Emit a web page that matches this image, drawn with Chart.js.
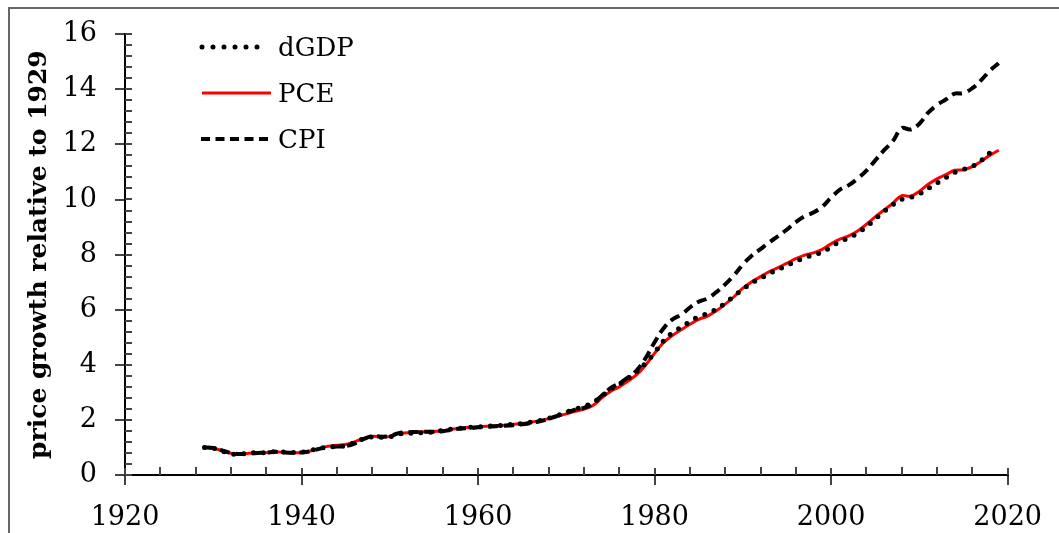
<!DOCTYPE html>
<html>
<head>
<meta charset="utf-8">
<script src="https://cdn.jsdelivr.net/npm/chart.js@4.4.1/dist/chart.umd.min.js"></script>
<style>
  body { margin: 0; background: #fff; }
  #wrap { position: relative; width: 1059px; height: 533px; overflow: hidden; }
  #frame { position: absolute; left: 8px; top: 7px; width: 1200px; height: 700px;
           border-left: 2px solid #666; border-top: 2px solid #666; pointer-events: none; }
  #legend { position: absolute; left: 198px; top: 24px; font-family: "DejaVu Serif", serif; font-size: 26px; color: #000; }
  .row { display: flex; align-items: center; height: 46px; }
  .row svg { margin-right: 6px; }
</style>
</head>
<body>
<div id="wrap">
  <canvas id="chart"></canvas>
  <div id="frame"></div>
  <div id="legend">
    <div class="row">
      <svg width="74" height="10"><line x1="4" y1="5" x2="70" y2="5" stroke="#000" stroke-width="5" stroke-linecap="round" stroke-dasharray="0 11"/></svg>
      <span>dGDP</span>
    </div>
    <div class="row">
      <svg width="74" height="10"><line x1="4" y1="5" x2="73" y2="5" stroke="#ff0000" stroke-width="3"/></svg>
      <span>PCE</span>
    </div>
    <div class="row">
      <svg width="74" height="10"><line x1="3" y1="5" x2="72" y2="5" stroke="#000" stroke-width="4" stroke-dasharray="9 5.5"/></svg>
      <span>CPI</span>
    </div>
  </div>
</div>
<script>
// years 1929..2019
const years = [
  1929, 1930, 1931, 1932, 1933, 1934, 1935, 1936, 1937, 1938,
  1939, 1940, 1941, 1942, 1943, 1944, 1945, 1946, 1947, 1948,
  1949, 1950, 1951, 1952, 1953, 1954, 1955, 1956, 1957, 1958,
  1959, 1960, 1961, 1962, 1963, 1964, 1965, 1966, 1967, 1968,
  1969, 1970, 1971, 1972, 1973, 1974, 1975, 1976, 1977, 1978,
  1979, 1980, 1981, 1982, 1983, 1984, 1985, 1986, 1987, 1988,
  1989, 1990, 1991, 1992, 1993, 1994, 1995, 1996, 1997, 1998,
  1999, 2000, 2001, 2002, 2003, 2004, 2005, 2006, 2007, 2008,
  2009, 2010, 2011, 2012, 2013, 2014, 2015, 2016, 2017, 2018,
  2019
];

// GDP deflator, 1929 = 1 (ends 2018)
const dgdp = [
  1.00, 0.97, 0.87, 0.77, 0.76, 0.79, 0.81, 0.81, 0.85, 0.83,
  0.82, 0.83, 0.89, 0.97, 1.01, 1.03, 1.06, 1.18, 1.31, 1.38,
  1.37, 1.39, 1.48, 1.51, 1.53, 1.54, 1.57, 1.62, 1.67, 1.70,
  1.73, 1.75, 1.77, 1.79, 1.81, 1.84, 1.87, 1.92, 1.98, 2.06,
  2.16, 2.28, 2.39, 2.49, 2.62, 2.86, 3.12, 3.30, 3.51, 3.76,
  4.07, 4.44, 4.86, 5.16, 5.36, 5.57, 5.75, 5.86, 6.02, 6.24,
  6.49, 6.74, 6.97, 7.14, 7.31, 7.46, 7.61, 7.75, 7.89, 7.98,
  8.09, 8.28, 8.47, 8.60, 8.78, 9.01, 9.29, 9.56, 9.81, 10.00,
  10.08, 10.20, 10.40, 10.60, 10.79, 10.98, 11.09, 11.20, 11.41, 11.70
];

// PCE price index, 1929 = 1
const pce = [
  1.00, 0.97, 0.88, 0.79, 0.76, 0.79, 0.80, 0.81, 0.84, 0.82,
  0.81, 0.82, 0.87, 0.96, 1.04, 1.08, 1.11, 1.20, 1.33, 1.40,
  1.39, 1.40, 1.50, 1.53, 1.56, 1.57, 1.58, 1.61, 1.66, 1.70,
  1.73, 1.75, 1.77, 1.79, 1.81, 1.84, 1.87, 1.92, 1.97, 2.05,
  2.14, 2.22, 2.31, 2.39, 2.52, 2.79, 3.03, 3.20, 3.41, 3.65,
  3.99, 4.42, 4.80, 5.06, 5.27, 5.47, 5.65, 5.77, 5.96, 6.20,
  6.47, 6.78, 7.01, 7.20, 7.38, 7.53, 7.69, 7.85, 7.98, 8.06,
  8.19, 8.39, 8.56, 8.68, 8.86, 9.10, 9.37, 9.62, 9.87, 10.14,
  10.12, 10.30, 10.55, 10.75, 10.90, 11.06, 11.08, 11.19, 11.39, 11.61,
  11.79
];

// CPI, 1929 = 1
const cpi = [
  1.00, 0.98, 0.89, 0.80, 0.76, 0.78, 0.80, 0.81, 0.84, 0.82,
  0.81, 0.82, 0.86, 0.95, 1.01, 1.03, 1.05, 1.14, 1.30, 1.41,
  1.39, 1.41, 1.52, 1.55, 1.56, 1.57, 1.57, 1.59, 1.64, 1.69,
  1.70, 1.73, 1.75, 1.77, 1.79, 1.81, 1.84, 1.89, 1.95, 2.04,
  2.15, 2.27, 2.37, 2.44, 2.60, 2.88, 3.15, 3.33, 3.54, 3.81,
  4.25, 4.82, 5.32, 5.64, 5.82, 6.08, 6.29, 6.41, 6.64, 6.92,
  7.25, 7.64, 7.96, 8.20, 8.45, 8.67, 8.91, 9.18, 9.39, 9.53,
  9.74, 10.07, 10.36, 10.52, 10.76, 11.05, 11.42, 11.79, 12.12, 12.59,
  12.54, 12.75, 13.15, 13.43, 13.63, 13.84, 13.86, 14.04, 14.33, 14.68,
  14.95
];

const yTitle = "price growth relative to 1929";

function pts(vals) {
  return vals.map((v, i) => ({ x: years[i], y: v }));
}

// minor ticks (inside) + inner half of the major ticks
const tickMarks = {
  id: 'tickMarks',
  afterDraw(chart) {
    const ctx = chart.ctx;
    const xs = chart.scales.x, ys = chart.scales.y;
    const left = chart.chartArea.left, bottom = chart.chartArea.bottom;
    ctx.save();
    ctx.strokeStyle = '#444';
    ctx.lineWidth = 2;
    ctx.beginPath();
    for (let v = 1920; v <= 2020; v += 4) {
      const px = Math.round(xs.getPixelForValue(v));
      ctx.moveTo(px, bottom);
      ctx.lineTo(px, bottom - (v % 20 === 0 ? 7 : 8));
    }
    for (let v = 0; v <= 16.001; v += 0.4) {
      const py = Math.round(ys.getPixelForValue(v));
      ctx.moveTo(left, py);
      ctx.lineTo(left + 7, py);
    }
    ctx.stroke();
    ctx.restore();
  }
};

Chart.defaults.font.family = '"DejaVu Serif", serif';
Chart.defaults.color = '#000';

new Chart(document.getElementById('chart'), {
  type: 'line',
  data: {
    datasets: [
      {
        label: 'dGDP',
        data: pts(dgdp),
        borderColor: '#000',
        borderWidth: 5,
        borderDash: [0, 10],
        borderCapStyle: 'round',
        pointRadius: 0,
        tension: 0.4,
        order: 1
      },
      {
        label: 'PCE',
        data: pts(pce),
        borderColor: '#ff0000',
        borderWidth: 3,
        pointRadius: 0,
        tension: 0.4,
        order: 2
      },
      {
        label: 'CPI',
        data: pts(cpi),
        borderColor: '#000',
        borderWidth: 4,
        borderDash: [10, 6],
        pointRadius: 0,
        tension: 0.4,
        order: 0
      }
    ]
  },
  options: {
    responsive: true,
    maintainAspectRatio: false,
    animation: false,
    layout: { padding: { top: 26, right: 46, left: 0, bottom: 0 } },
    plugins: { legend: { display: false }, tooltip: { enabled: false } },
    scales: {
      x: {
        type: 'linear',
        min: 1920,
        max: 2020,
        ticks: { stepSize: 20, padding: 17, font: { size: 27 }, callback: v => String(v), maxRotation: 0 },
        grid: { drawOnChartArea: false, tickLength: 10, color: '#444', lineWidth: 2 },
        border: { color: '#000', width: 2 },
        afterFit: s => { s.height = 58; }
      },
      y: {
        min: 0,
        max: 16,
        ticks: { stepSize: 2, padding: 18, font: { size: 27 } },
        grid: { drawOnChartArea: false, tickLength: 10, color: '#444', lineWidth: 2 },
        border: { color: '#000', width: 2 },
        title: { display: true, text: yTitle, font: { size: 25, weight: 'bold' }, padding: { top: 24, bottom: 0 } },
        afterFit: s => { s.width = 125; }
      }
    }
  },
  plugins: [tickMarks]
});
</script>
</body>
</html>
